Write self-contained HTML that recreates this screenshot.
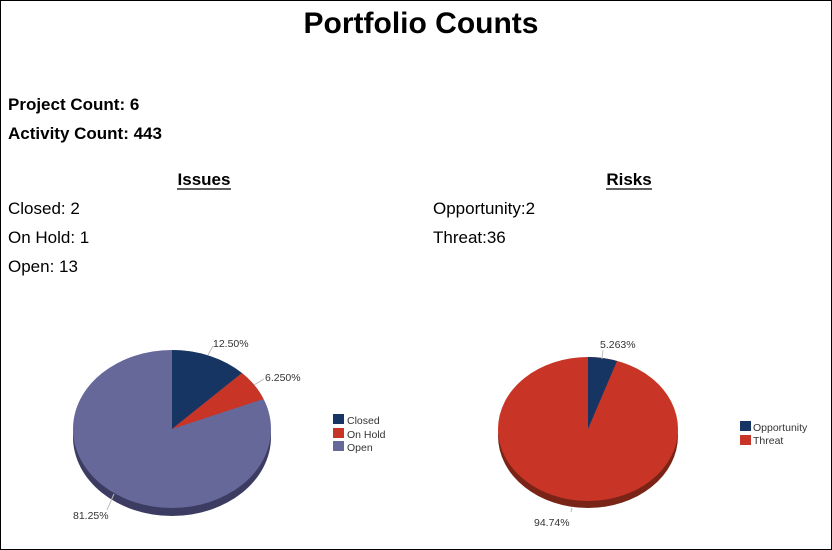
<!DOCTYPE html>
<html><head><style>
html,body{margin:0;padding:0;background:#fff}
svg{display:block}
text{font-family:"Liberation Sans",Arial,sans-serif}
</style></head><body>
<svg width="832" height="550" viewBox="0 0 832 550">
<rect x="0.5" y="0.5" width="831" height="549" fill="#fff" stroke="#000"/>
<text x="421" y="33" font-size="30" font-weight="bold" text-anchor="middle">Portfolio Counts</text>
<g font-size="17" fill="#000">
<text x="8" y="110" font-weight="bold">Project Count: 6</text>
<text x="8" y="139" font-weight="bold">Activity Count: 443</text>
<text x="204" y="185" font-weight="bold" text-anchor="middle">Issues</text>
<line x1="177" y1="189" x2="231" y2="189" stroke="#000" stroke-width="1.3"/>
<text x="8" y="214">Closed: 2</text>
<text x="8" y="243">On Hold: 1</text>
<text x="8" y="272">Open: 13</text>
<text x="629" y="185" font-weight="bold" text-anchor="middle">Risks</text>
<line x1="606" y1="189" x2="652" y2="189" stroke="#000" stroke-width="1.3"/>
<text x="433" y="214">Opportunity:2</text>
<text x="433" y="243">Threat:36</text>
</g>
<!-- Left pie -->
<ellipse cx="172" cy="437" rx="99" ry="79" fill="#3c3c62"/>
<ellipse cx="172" cy="429" rx="99" ry="79" fill="#66689a"/>
<path d="M172,429 L172,350 A99,79 0 0 1 242,373 Z" fill="#173563"/>
<path d="M172,429 L242,373 A99,79 0 0 1 263.5,399 Z" fill="#c83526"/>
<g stroke="#bbb" stroke-width="1" fill="none">
<line x1="208" y1="355" x2="213" y2="346"/>
<line x1="254" y1="385" x2="264" y2="379"/>
<line x1="114" y1="494" x2="107" y2="510"/>
</g>
<g font-size="10.5" fill="#333">
<text x="213" y="347">12.50%</text>
<text x="265" y="381">6.250%</text>
<text x="73" y="519">81.25%</text>
<rect x="333" y="414" width="11" height="10" fill="#173563"/>
<rect x="333" y="428" width="11" height="10" fill="#c83526"/>
<rect x="333" y="441" width="11" height="10" fill="#66689a"/>
<text x="347" y="424">Closed</text>
<text x="347" y="438">On Hold</text>
<text x="347" y="451">Open</text>
</g>
<!-- Right pie -->
<ellipse cx="588" cy="436" rx="90" ry="72" fill="#7a2418"/>
<ellipse cx="588" cy="429" rx="90" ry="72" fill="#c83526"/>
<path d="M588,429 L588,357 A90,72 0 0 1 617,361 Z" fill="#173563"/>
<g stroke="#bbb" stroke-width="1" fill="none">
<line x1="602" y1="359" x2="603" y2="350"/>
<line x1="572" y1="508" x2="571" y2="512"/>
</g>
<g font-size="10.5" fill="#333">
<text x="600" y="348">5.263%</text>
<text x="534" y="526">94.74%</text>
<rect x="740" y="421" width="11" height="10" fill="#173563"/>
<rect x="740" y="435" width="11" height="10" fill="#c83526"/>
<text x="753" y="431">Opportunity</text>
<text x="753" y="444">Threat</text>
</g>
</svg>
</body></html>
